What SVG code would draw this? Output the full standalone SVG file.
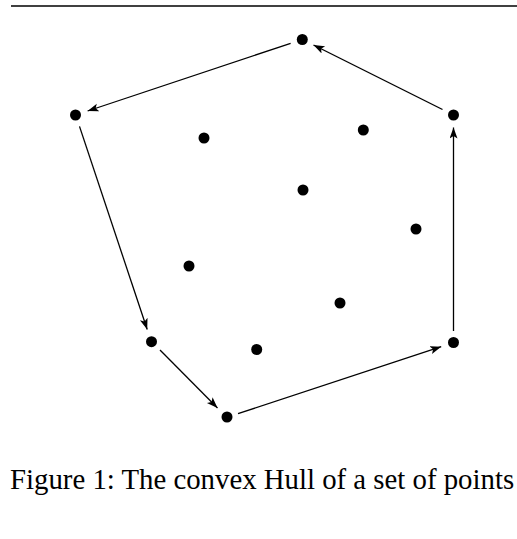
<svg xmlns="http://www.w3.org/2000/svg" width="517" height="539" viewBox="0 0 517 539">
<style>
.dot{fill:#000}
.edge{stroke:#000;stroke-width:1.3;fill:none;marker-end:url(#arr)}
.cap{font-family:"Liberation Serif","Times New Roman",serif;font-size:28.8px;fill:#000}
</style>
<defs>
<marker id="arr" markerUnits="userSpaceOnUse" markerWidth="12" markerHeight="10" refX="11" refY="4" orient="auto">
<path d="M0,0 L11,4 L0,8 L2.5,4 Z" fill="#000"/>
</marker>
</defs>
<rect width="517" height="539" fill="#fff"/>
<line x1="11" y1="6" x2="517" y2="6" stroke="#000" stroke-width="1.3"/>
<g id="connectors">
<line class="edge" x1="442.5" y1="109.5" x2="313.5" y2="45"/>
<line class="edge" x1="290.6" y1="43.3" x2="87.6" y2="111"/>
<line class="edge" x1="79.5" y1="126.4" x2="147.2" y2="329.5"/>
<line class="edge" x1="160" y1="350" x2="217.5" y2="408"/>
<line class="edge" x1="238" y1="413.7" x2="441.2" y2="346.7"/>
<line class="edge" x1="453.5" y1="331" x2="453.5" y2="127.5"/>
</g>
<g id="p1"><circle class="dot" cx="302.3" cy="39.5" r="5.5"/></g>
<g id="p2"><circle class="dot" cx="453.5" cy="115" r="5.5"/></g>
<g id="p3"><circle class="dot" cx="75.5" cy="115" r="5.5"/></g>
<g id="p4"><circle class="dot" cx="204" cy="138" r="5.5"/></g>
<g id="p5"><circle class="dot" cx="363.3" cy="130" r="5.5"/></g>
<g id="p6"><circle class="dot" cx="303" cy="190" r="5.5"/></g>
<g id="p7"><circle class="dot" cx="416" cy="229" r="5.5"/></g>
<g id="p8"><circle class="dot" cx="189" cy="266" r="5.5"/></g>
<g id="p9"><circle class="dot" cx="340" cy="303" r="5.5"/></g>
<g id="p10"><circle class="dot" cx="151.5" cy="341.7" r="5.5"/></g>
<g id="p11"><circle class="dot" cx="256.7" cy="349.5" r="5.5"/></g>
<g id="p12"><circle class="dot" cx="453.5" cy="342.5" r="5.5"/></g>
<g id="p13"><circle class="dot" cx="227" cy="417" r="5.5"/></g>
<text class="cap" x="10" y="489">Figure 1: The convex Hull of a set of points</text>
</svg>
